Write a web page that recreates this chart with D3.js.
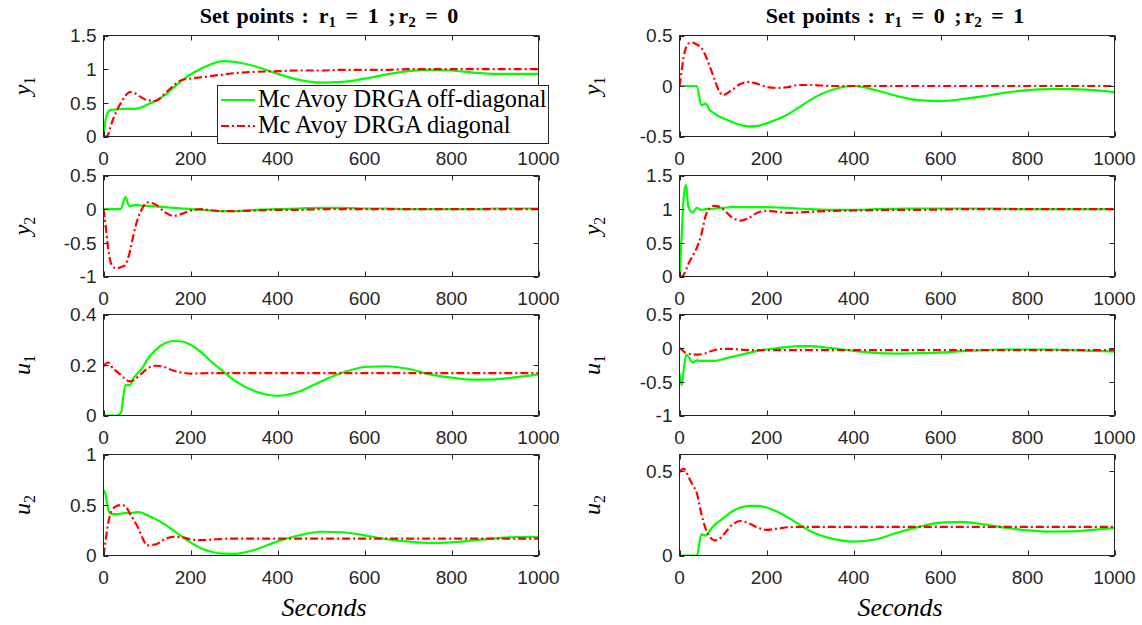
<!DOCTYPE html>
<html><head><meta charset="utf-8">
<script src="https://cdn.jsdelivr.net/npm/d3@7"></script>
<style>body{margin:0;background:#fff}svg{display:block}</style>
</head><body>
<svg id="c" width="1142" height="625"></svg>
<script>
// ---- data ----
const time = [0,5,10,15,20,30,40,50,60,70,80,90,100,120,140,160,180,200,225,250,275,300,350,400,450,500,550,600,650,700,750,800,850,900,950,1000];
const xTicks = [0,200,400,600,800,1000];
const seriesNames = ["Mc Avoy DRGA off-diagonal","Mc Avoy DRGA diagonal"];
const setR1 = ["1","0"];
const setR2 = ["0","1"];
// Set point r1=1, r2=0
const y1_A_off  = [0,0.25,0.36,0.39,0.40,0.40,0.41,0.41,0.41,0.41,0.42,0.44,0.47,0.53,0.61,0.72,0.83,0.92,1.01,1.08,1.12,1.11,1.04,0.93,0.84,0.80,0.81,0.86,0.92,0.97,0.99,0.98,0.95,0.93,0.93,0.93];
const y1_A_diag = [0,0,0.02,0.12,0.22,0.38,0.50,0.60,0.66,0.65,0.61,0.57,0.54,0.53,0.63,0.75,0.84,0.86,0.88,0.90,0.92,0.94,0.96,0.97,0.98,0.98,0.99,0.99,0.99,1,1,1,1,1,1,1];
const y2_A_off  = [0,0,0,0,0,0,0,0.18,0.04,0.06,0.06,0.05,0.05,0.04,0.03,0.02,0.01,0,-0.01,-0.02,-0.03,-0.03,-0.01,0,0.01,0.02,0.02,0.01,0.01,0,0,0,0,0.01,0.01,0.01];
const y2_A_diag = [0,-0.25,-0.55,-0.75,-0.84,-0.88,-0.86,-0.83,-0.65,-0.35,-0.12,0.02,0.10,0.07,-0.04,-0.10,-0.07,-0.02,0,-0.02,-0.03,-0.03,-0.02,-0.01,-0.01,0,0,0,0,0,0,0,0,0,0,0];
const u1_A_off  = [0,0,0,0,0,0,0.01,0.12,0.12,0.15,0.17,0.19,0.22,0.26,0.285,0.295,0.293,0.28,0.25,0.21,0.175,0.14,0.095,0.078,0.095,0.135,0.17,0.192,0.195,0.185,0.163,0.15,0.142,0.143,0.152,0.163];
const u1_A_diag = [0.195,0.205,0.21,0.205,0.19,0.175,0.16,0.145,0.135,0.14,0.155,0.17,0.185,0.197,0.192,0.178,0.17,0.166,0.167,0.168,0.168,0.168,0.168,0.168,0.168,0.168,0.168,0.168,0.168,0.168,0.168,0.168,0.168,0.168,0.168,0.168];
const u2_A_off  = [0.65,0.6,0.47,0.42,0.41,0.41,0.415,0.42,0.42,0.425,0.43,0.42,0.4,0.36,0.31,0.25,0.19,0.13,0.07,0.035,0.018,0.017,0.06,0.14,0.2,0.235,0.23,0.2,0.163,0.14,0.125,0.13,0.15,0.17,0.183,0.185];
const u2_A_diag = [0,0.15,0.3,0.4,0.45,0.49,0.5,0.49,0.42,0.35,0.27,0.17,0.1,0.11,0.16,0.185,0.18,0.16,0.152,0.158,0.165,0.168,0.168,0.168,0.168,0.168,0.168,0.168,0.168,0.168,0.168,0.168,0.168,0.168,0.168,0.168];
// Set point r1=0, r2=1
const y1_B_off  = [0,0,0,0,0,0,0,-0.19,-0.175,-0.24,-0.27,-0.3,-0.32,-0.355,-0.385,-0.4,-0.395,-0.37,-0.33,-0.28,-0.21,-0.14,-0.04,0,-0.04,-0.1,-0.14,-0.15,-0.13,-0.1,-0.065,-0.04,-0.03,-0.03,-0.04,-0.06];
const y1_B_diag = [0,0.15,0.3,0.38,0.42,0.43,0.41,0.38,0.3,0.19,0.07,-0.04,-0.09,-0.04,0.02,0.04,0.02,-0.01,-0.02,-0.01,0.01,0.01,0,0,0,0,0,0,0,0,0,0,0,0,0,0];
const y2_B_off  = [0,0.6,1.2,1.36,1.05,0.95,1.02,0.99,1.0,1.0,1.01,1.02,1.02,1.03,1.03,1.03,1.03,1.03,1.025,1.02,1.01,1.0,0.99,0.99,1.0,1.005,1.01,1.01,1.01,1.01,1.005,1,1,1,1,1];
const y2_B_diag = [0,0,0.03,0.1,0.18,0.3,0.43,0.62,0.9,1.02,1.05,1.04,1.0,0.88,0.83,0.87,0.95,0.975,0.96,0.945,0.95,0.96,0.975,0.98,0.985,0.99,0.99,0.995,1,1,1,1,1,1,1,1];
const u1_B_off  = [-0.37,-0.55,-0.3,-0.1,-0.12,-0.21,-0.18,-0.19,-0.19,-0.19,-0.19,-0.18,-0.16,-0.13,-0.1,-0.07,-0.04,-0.02,0,0.02,0.03,0.03,0,-0.04,-0.07,-0.08,-0.075,-0.065,-0.045,-0.03,-0.02,-0.02,-0.02,-0.03,-0.04,-0.05];
const u1_B_diag = [0,-0.02,-0.05,-0.07,-0.08,-0.09,-0.095,-0.09,-0.075,-0.05,-0.03,-0.015,-0.01,-0.01,-0.02,-0.03,-0.03,-0.03,-0.03,-0.03,-0.03,-0.03,-0.03,-0.03,-0.03,-0.03,-0.03,-0.03,-0.03,-0.03,-0.03,-0.03,-0.03,-0.03,-0.03,-0.03];
const u2_B_off  = [0,0,0,0,0,0,0,0.125,0.12,0.15,0.18,0.2,0.22,0.26,0.285,0.295,0.295,0.285,0.26,0.225,0.185,0.145,0.1,0.083,0.095,0.135,0.17,0.195,0.2,0.185,0.165,0.15,0.142,0.143,0.152,0.163];
const u2_B_diag = [0.495,0.51,0.515,0.5,0.47,0.42,0.37,0.25,0.16,0.11,0.09,0.095,0.12,0.18,0.205,0.19,0.165,0.152,0.16,0.168,0.17,0.17,0.17,0.17,0.17,0.17,0.17,0.17,0.17,0.17,0.17,0.17,0.17,0.17,0.17,0.17];
// y-axis domains and ticks
const domA = [[0,1.5],[-1,0.5],[0,0.4],[0,1]];
const domB = [[-0.5,0.5],[0,1.5],[-1,0.5],[0,0.6]];
const ticksA = [[0,0.5,1,1.5],[-1,-0.5,0,0.5],[0,0.2,0.4],[0,0.5,1]];
const ticksB = [[-0.5,0,0.5],[0,0.5,1,1.5],[-1,-0.5,0,0.5],[0,0.5]];
const rowVars = ["y","y","u","u"];
const rowSubs = ["1","2","1","2"];

// ---- layout ----
const svg = d3.select("#c");
const AX = "#262626";
const GREEN = "#00ff00", RED = "#ff0000";
const cols = [{x0:103.5,x1:538.5},{x0:679.5,x1:1114.5}];
const rowTop = [35.5,175.5,314.5,454.5];
const rowH = 101;
const panels = [
  [ [y1_A_off,y1_A_diag],[y2_A_off,y2_A_diag],[u1_A_off,u1_A_diag],[u2_A_off,u2_A_diag] ],
  [ [y1_B_off,y1_B_diag],[y2_B_off,y2_B_diag],[u1_B_off,u1_B_diag],[u2_B_off,u2_B_diag] ]
];
const doms = [domA, domB], tks = [ticksA, ticksB];
const tickFont = "'Liberation Sans', Arial, sans-serif";
const serif = "'Liberation Serif', 'Times New Roman', serif";

const defs = svg.append("defs");
let clipId = 0;
for (let c = 0; c < 2; c++) {
  const col = cols[c];
  const x = d3.scaleLinear().domain([0,1000]).range([col.x0, col.x1]);
  for (let r = 0; r < 4; r++) {
    const top = rowTop[r], bot = top + rowH;
    const y = d3.scaleLinear().domain(doms[c][r]).range([bot, top]);
    const g = svg.append("g");
    const id = "clip" + (clipId++);
    defs.append("clipPath").attr("id", id).append("rect")
      .attr("x", col.x0).attr("y", top).attr("width", col.x1-col.x0).attr("height", rowH);
    const line = d3.line().x((d,i)=>x(time[i])).y(d=>y(d)).curve(d3.curveMonotoneX);
    const [off, diag] = panels[c][r];
    g.append("path").attr("d", line(off)).attr("fill","none").attr("stroke",GREEN)
      .attr("stroke-width",2.2).attr("clip-path",`url(#${id})`);
    g.append("path").attr("d", line(diag)).attr("fill","none").attr("stroke",RED)
      .attr("stroke-width",2.2).attr("stroke-dasharray","8,3,2,3").attr("clip-path",`url(#${id})`);
    g.append("rect").attr("x",col.x0).attr("y",top).attr("width",col.x1-col.x0).attr("height",rowH)
      .attr("fill","none").attr("stroke",AX).attr("stroke-width",1);
    xTicks.forEach(v => {
      const px = Math.round(x(v)) + 0.5;
      g.append("line").attr("x1",px).attr("x2",px).attr("y1",bot).attr("y2",bot-5).attr("stroke",AX);
      g.append("line").attr("x1",px).attr("x2",px).attr("y1",top).attr("y2",top+5).attr("stroke",AX);
      g.append("text").attr("x",x(v)).attr("y",bot+28).attr("text-anchor","middle")
        .attr("font-family",tickFont).attr("font-size",19).attr("fill",AX).text(String(v));
    });
    tks[c][r].forEach(v => {
      const py = Math.round(y(v)) + 0.5;
      g.append("line").attr("x1",col.x0).attr("x2",col.x0+5).attr("y1",py).attr("y2",py).attr("stroke",AX);
      g.append("line").attr("x1",col.x1).attr("x2",col.x1-5).attr("y1",py).attr("y2",py).attr("stroke",AX);
      g.append("text").attr("x",col.x0-7).attr("y",y(v)).attr("dy","0.36em").attr("text-anchor","end")
        .attr("font-family",tickFont).attr("font-size",19).attr("fill",AX).text(String(v));
    });
    const cx = c === 0 ? 27 : 597;
    const yl = svg.append("text").attr("transform",`translate(${cx},${top+rowH/2}) rotate(-90)`)
      .attr("y",3).attr("text-anchor","middle").attr("font-family",serif).attr("font-size",24).attr("fill","#000");
    yl.append("tspan").attr("font-style","italic").text(rowVars[r]);
    yl.append("tspan").attr("font-size",16).attr("dy",5).text(rowSubs[r]);
  }
  svg.append("text").attr("x",(col.x0+col.x1)/2+3).attr("y",616).attr("text-anchor","middle")
    .attr("font-family",serif).attr("font-style","italic").attr("font-size",26).attr("fill","#000").text("Seconds");
  const tt = svg.append("text").attr("x",(col.x0+col.x1)/2 + (c===0?8:-2)).attr("y",23).attr("text-anchor","middle")
    .attr("font-family",serif).attr("font-weight","bold").attr("font-size",22).attr("fill","#000")
    .attr("word-spacing",2);
  tt.append("tspan").text("Set points :");
  tt.append("tspan").attr("dx",10).text("r");
  tt.append("tspan").attr("font-size",15).attr("dy",4).text("1");
  tt.append("tspan").attr("dy",-4).attr("word-spacing",4).text(` = ${setR1[c]} ;`);
  tt.append("tspan").attr("dx",3).text("r");
  tt.append("tspan").attr("font-size",15).attr("dy",4).text("2");
  tt.append("tspan").attr("dy",-4).attr("word-spacing",4).text(` = ${setR2[c]}`);
}

// legend
const lg = svg.append("g");
lg.append("rect").attr("x",217.5).attr("y",85.5).attr("width",331).attr("height",58)
  .attr("fill","#fff").attr("stroke",AX).attr("stroke-width",1);
[[GREEN,null],[RED,"8,3,2,3"]].forEach(([col,dash],i) => {
  const yy = 100 + i*26;
  const ln = lg.append("line").attr("x1",221).attr("x2",255).attr("y1",yy).attr("y2",yy)
    .attr("stroke",col).attr("stroke-width",2.2);
  if (dash) ln.attr("stroke-dasharray",dash);
  lg.append("text").attr("x",258).attr("y",yy+7).attr("font-family",serif)
    .attr("font-size",24.3).attr("fill","#000").text(seriesNames[i]);
});
</script>
</body></html>
